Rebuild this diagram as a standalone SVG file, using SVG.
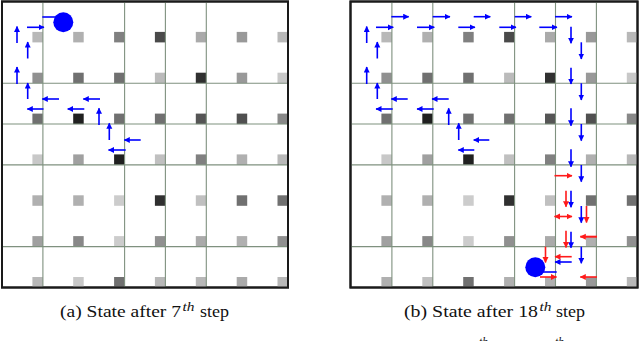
<svg xmlns="http://www.w3.org/2000/svg" width="640" height="341" viewBox="0 0 640 341">
<defs>
<marker id="hb" markerUnits="userSpaceOnUse" markerWidth="7" markerHeight="7" refX="5.5" refY="3" orient="auto-start-reverse"><path d="M0,0 L6,3 L0,6 z" fill="#0000ff"/></marker>
<marker id="hr" markerUnits="userSpaceOnUse" markerWidth="7" markerHeight="7" refX="5.5" refY="3" orient="auto-start-reverse"><path d="M0,0 L6,3 L0,6 z" fill="#ff1a1a"/></marker>
<style>
.frame{fill:#ffffff;stroke:#1a1a1a;stroke-width:2}
.grid line{stroke:#7f917f;stroke-width:1.1}
.b{stroke:#0000ff;stroke-width:1.6;fill:none;marker-end:url(#hb)}
.r{stroke:#ff1a1a;stroke-width:1.6;fill:none;marker-end:url(#hr)}
.cap{font-family:"Liberation Serif","DejaVu Serif",serif;font-size:16.5px;fill:#111}
.sup{font-size:11.5px;font-style:italic}
</style>
</defs>

<!-- Left panel -->
<g id="panelA">
<rect class="frame" x="2" y="1.5" width="286" height="286"/>
<g id="squaresA">
<rect x="32.4" y="31.9" width="10.5" height="10.5" fill="#b8b8b8"/>
<rect x="73.2" y="31.9" width="10.5" height="10.5" fill="#b0b0b0"/>
<rect x="114.1" y="31.9" width="10.5" height="10.5" fill="#808080"/>
<rect x="154.9" y="31.9" width="10.5" height="10.5" fill="#4a4a4a"/>
<rect x="195.8" y="31.9" width="10.5" height="10.5" fill="#aaaaaa"/>
<rect x="236.7" y="31.9" width="10.5" height="10.5" fill="#999999"/>
<rect x="277.5" y="31.9" width="10.5" height="10.5" fill="#b8b8b8"/>

<rect x="32.4" y="72.7" width="10.5" height="10.5" fill="#909090"/>
<rect x="73.2" y="72.7" width="10.5" height="10.5" fill="#707070"/>
<rect x="114.1" y="72.7" width="10.5" height="10.5" fill="#707070"/>
<rect x="154.9" y="72.7" width="10.5" height="10.5" fill="#bbbbbb"/>
<rect x="195.8" y="72.7" width="10.5" height="10.5" fill="#303030"/>
<rect x="236.7" y="72.7" width="10.5" height="10.5" fill="#999999"/>
<rect x="277.5" y="72.7" width="10.5" height="10.5" fill="#c8c8c8"/>

<rect x="32.4" y="113.6" width="10.5" height="10.5" fill="#707070"/>
<rect x="73.2" y="113.6" width="10.5" height="10.5" fill="#202020"/>
<rect x="114.1" y="113.6" width="10.5" height="10.5" fill="#707070"/>
<rect x="154.9" y="113.6" width="10.5" height="10.5" fill="#707070"/>
<rect x="195.8" y="113.6" width="10.5" height="10.5" fill="#555555"/>
<rect x="236.7" y="113.6" width="10.5" height="10.5" fill="#505050"/>
<rect x="277.5" y="113.6" width="10.5" height="10.5" fill="#888888"/>

<rect x="32.4" y="154.4" width="10.5" height="10.5" fill="#c8c8c8"/>
<rect x="73.2" y="154.4" width="10.5" height="10.5" fill="#a0a0a0"/>
<rect x="114.1" y="154.4" width="10.5" height="10.5" fill="#202020"/>
<rect x="154.9" y="154.4" width="10.5" height="10.5" fill="#c0c0c0"/>
<rect x="195.8" y="154.4" width="10.5" height="10.5" fill="#808080"/>
<rect x="236.7" y="154.4" width="10.5" height="10.5" fill="#b0b0b0"/>
<rect x="277.5" y="154.4" width="10.5" height="10.5" fill="#b8b8b8"/>

<rect x="32.4" y="195.3" width="10.5" height="10.5" fill="#b0b0b0"/>
<rect x="73.2" y="195.3" width="10.5" height="10.5" fill="#b0b0b0"/>
<rect x="114.1" y="195.3" width="10.5" height="10.5" fill="#cccccc"/>
<rect x="154.9" y="195.3" width="10.5" height="10.5" fill="#303030"/>
<rect x="195.8" y="195.3" width="10.5" height="10.5" fill="#c0c0c0"/>
<rect x="236.7" y="195.3" width="10.5" height="10.5" fill="#707070"/>
<rect x="277.5" y="195.3" width="10.5" height="10.5" fill="#707070"/>

<rect x="32.4" y="236.1" width="10.5" height="10.5" fill="#a0a0a0"/>
<rect x="73.2" y="236.1" width="10.5" height="10.5" fill="#888888"/>
<rect x="114.1" y="236.1" width="10.5" height="10.5" fill="#cccccc"/>
<rect x="154.9" y="236.1" width="10.5" height="10.5" fill="#909090"/>
<rect x="195.8" y="236.1" width="10.5" height="10.5" fill="#aaaaaa"/>
<rect x="236.7" y="236.1" width="10.5" height="10.5" fill="#b0b0b0"/>
<rect x="277.5" y="236.1" width="10.5" height="10.5" fill="#909090"/>

<rect x="32.4" y="277" width="10.5" height="10.5" fill="#b8b8b8"/>
<rect x="73.2" y="277" width="10.5" height="10.5" fill="#c8c8c8"/>
<rect x="114.1" y="277" width="10.5" height="10.5" fill="#707070"/>
<rect x="154.9" y="277" width="10.5" height="10.5" fill="#b8b8b8"/>
<rect x="195.8" y="277" width="10.5" height="10.5" fill="#b8b8b8"/>
<rect x="236.7" y="277" width="10.5" height="10.5" fill="#aaaaaa"/>
<rect x="277.5" y="277" width="10.5" height="10.5" fill="#b8b8b8"/>
</g>
<g class="grid" id="gridA">
<line x1="42.9" y1="1.5" x2="42.9" y2="287.5"/>
<line x1="124.6" y1="1.5" x2="124.6" y2="287.5"/>
<line x1="165.4" y1="1.5" x2="165.4" y2="287.5"/>
<line x1="206.3" y1="1.5" x2="206.3" y2="287.5"/>
<line x1="2" y1="83.2" x2="288" y2="83.2"/>
<line x1="2" y1="124" x2="288" y2="124"/>
<line x1="2" y1="164.9" x2="288" y2="164.9"/>
<line x1="2" y1="246.6" x2="288" y2="246.6"/>
</g>
<rect class="frame" x="2" y="1.5" width="286" height="286" style="fill:none"/>
<g id="connectorsA">
<line class="b" x1="17" y1="43" x2="17" y2="26.5"/>
<line class="b" x1="27.7" y1="58.5" x2="27.7" y2="42"/>
<line class="b" x1="17" y1="84" x2="17" y2="67"/>
<line class="b" x1="27.7" y1="99" x2="27.7" y2="83"/>
<line class="b" x1="27" y1="27.3" x2="44" y2="27.3"/>
<line class="b" x1="59" y1="99" x2="42.3" y2="99"/>
<line class="b" x1="100" y1="99" x2="83.3" y2="99"/>
<line class="b" x1="43.5" y1="109" x2="27.3" y2="109"/>
<line class="b" x1="84.3" y1="109" x2="67.7" y2="109"/>
<line class="b" x1="99" y1="125" x2="99" y2="108.3"/>
<line class="b" x1="109.3" y1="140" x2="109.3" y2="123.3"/>
<line class="b" x1="140.7" y1="140" x2="124.3" y2="140"/>
<line class="b" x1="125.7" y1="150" x2="108.5" y2="150"/>
</g>
<g id="agentA">
<line x1="42.3" y1="17" x2="62" y2="17" stroke="#0000ff" stroke-width="1.6"/>
<circle cx="63.3" cy="22.3" r="10" fill="#0000ff"/>
</g>
</g>

<!-- Right panel -->
<g id="panelB">
<rect class="frame" x="350.5" y="1.5" width="287" height="286"/>
<g id="squaresB">
<rect x="381.4" y="31.9" width="10.5" height="10.5" fill="#b8b8b8"/>
<rect x="422.3" y="31.9" width="10.5" height="10.5" fill="#b0b0b0"/>
<rect x="463.2" y="31.9" width="10.5" height="10.5" fill="#808080"/>
<rect x="504.1" y="31.9" width="10.5" height="10.5" fill="#4a4a4a"/>
<rect x="545" y="31.9" width="10.5" height="10.5" fill="#aaaaaa"/>
<rect x="585.9" y="31.9" width="10.5" height="10.5" fill="#999999"/>
<rect x="626.8" y="31.9" width="10.5" height="10.5" fill="#b8b8b8"/>

<rect x="381.4" y="72.7" width="10.5" height="10.5" fill="#909090"/>
<rect x="422.3" y="72.7" width="10.5" height="10.5" fill="#707070"/>
<rect x="463.2" y="72.7" width="10.5" height="10.5" fill="#707070"/>
<rect x="504.1" y="72.7" width="10.5" height="10.5" fill="#bbbbbb"/>
<rect x="545" y="72.7" width="10.5" height="10.5" fill="#303030"/>
<rect x="585.9" y="72.7" width="10.5" height="10.5" fill="#999999"/>
<rect x="626.8" y="72.7" width="10.5" height="10.5" fill="#c8c8c8"/>

<rect x="381.4" y="113.6" width="10.5" height="10.5" fill="#707070"/>
<rect x="422.3" y="113.6" width="10.5" height="10.5" fill="#202020"/>
<rect x="463.2" y="113.6" width="10.5" height="10.5" fill="#707070"/>
<rect x="504.1" y="113.6" width="10.5" height="10.5" fill="#707070"/>
<rect x="545" y="113.6" width="10.5" height="10.5" fill="#555555"/>
<rect x="585.9" y="113.6" width="10.5" height="10.5" fill="#505050"/>
<rect x="626.8" y="113.6" width="10.5" height="10.5" fill="#888888"/>

<rect x="381.4" y="154.4" width="10.5" height="10.5" fill="#c8c8c8"/>
<rect x="422.3" y="154.4" width="10.5" height="10.5" fill="#a0a0a0"/>
<rect x="463.2" y="154.4" width="10.5" height="10.5" fill="#202020"/>
<rect x="504.1" y="154.4" width="10.5" height="10.5" fill="#c0c0c0"/>
<rect x="545" y="154.4" width="10.5" height="10.5" fill="#808080"/>
<rect x="585.9" y="154.4" width="10.5" height="10.5" fill="#b0b0b0"/>
<rect x="626.8" y="154.4" width="10.5" height="10.5" fill="#b8b8b8"/>

<rect x="381.4" y="195.3" width="10.5" height="10.5" fill="#b0b0b0"/>
<rect x="422.3" y="195.3" width="10.5" height="10.5" fill="#b0b0b0"/>
<rect x="463.2" y="195.3" width="10.5" height="10.5" fill="#cccccc"/>
<rect x="504.1" y="195.3" width="10.5" height="10.5" fill="#303030"/>
<rect x="545" y="195.3" width="10.5" height="10.5" fill="#c0c0c0"/>
<rect x="585.9" y="195.3" width="10.5" height="10.5" fill="#707070"/>
<rect x="626.8" y="195.3" width="10.5" height="10.5" fill="#707070"/>

<rect x="381.4" y="236.1" width="10.5" height="10.5" fill="#a0a0a0"/>
<rect x="422.3" y="236.1" width="10.5" height="10.5" fill="#888888"/>
<rect x="463.2" y="236.1" width="10.5" height="10.5" fill="#cccccc"/>
<rect x="504.1" y="236.1" width="10.5" height="10.5" fill="#909090"/>
<rect x="545" y="236.1" width="10.5" height="10.5" fill="#aaaaaa"/>
<rect x="585.9" y="236.1" width="10.5" height="10.5" fill="#b0b0b0"/>
<rect x="626.8" y="236.1" width="10.5" height="10.5" fill="#909090"/>

<rect x="381.4" y="277" width="10.5" height="10.5" fill="#b0b0b0"/>
<rect x="422.3" y="277" width="10.5" height="10.5" fill="#c0c0c0"/>
<rect x="463.2" y="277" width="10.5" height="10.5" fill="#707070"/>
<rect x="504.1" y="277" width="10.5" height="10.5" fill="#b0b0b0"/>
<rect x="545" y="277" width="10.5" height="10.5" fill="#b0b0b0"/>
<rect x="585.9" y="277" width="10.5" height="10.5" fill="#999999"/>
<rect x="626.8" y="277" width="10.5" height="10.5" fill="#b8b8b8"/>
</g>
<g class="grid" id="gridB">
<line x1="391.9" y1="1.5" x2="391.9" y2="287.5"/>
<line x1="432.8" y1="1.5" x2="432.8" y2="287.5"/>
<line x1="514.6" y1="1.5" x2="514.6" y2="287.5"/>
<line x1="555.5" y1="1.5" x2="555.5" y2="287.5"/>
<line x1="596.4" y1="1.5" x2="596.4" y2="287.5"/>
<line x1="350.5" y1="83.2" x2="637.5" y2="83.2"/>
<line x1="350.5" y1="124" x2="637.5" y2="124"/>
<line x1="350.5" y1="164.9" x2="637.5" y2="164.9"/>
<line x1="350.5" y1="246.6" x2="637.5" y2="246.6"/>
</g>
<rect class="frame" x="350.5" y="1.5" width="287" height="286" style="fill:none"/>
<g id="connectorsB">
<line class="b" x1="366.7" y1="43" x2="366.7" y2="26.5"/>
<line class="b" x1="377.3" y1="58.5" x2="377.3" y2="42"/>
<line class="b" x1="366.7" y1="84" x2="366.7" y2="67"/>
<line class="b" x1="377.3" y1="99" x2="377.3" y2="83"/>
<line class="b" x1="376" y1="27.3" x2="393.3" y2="27.3"/>
<line class="b" x1="417" y1="27.3" x2="434.3" y2="27.3"/>
<line class="b" x1="458.3" y1="27.3" x2="475" y2="27.3"/>
<line class="b" x1="499.3" y1="27.3" x2="516" y2="27.3"/>
<line class="b" x1="539.3" y1="27.3" x2="557" y2="27.3"/>
<line class="b" x1="391.3" y1="16.7" x2="408.7" y2="16.7"/>
<line class="b" x1="432.7" y1="16.7" x2="450" y2="16.7"/>
<line class="b" x1="473.7" y1="16.7" x2="490.3" y2="16.7"/>
<line class="b" x1="514.7" y1="16.7" x2="531.3" y2="16.7"/>
<line class="b" x1="555" y1="16.7" x2="572" y2="16.7"/>
<line class="b" x1="571" y1="26.7" x2="571" y2="43.3"/>
<line class="b" x1="571" y1="67.7" x2="571" y2="84"/>
<line class="b" x1="571" y1="108.3" x2="571" y2="125.7"/>
<line class="b" x1="571" y1="149.3" x2="571" y2="166.7"/>
<line class="b" x1="571" y1="190.7" x2="571" y2="207.3"/>
<line class="b" x1="571" y1="231.7" x2="571" y2="247.7"/>
<line class="b" x1="581.3" y1="42.3" x2="581.3" y2="59"/>
<line class="b" x1="581.3" y1="83.3" x2="581.3" y2="100"/>
<line class="b" x1="581.3" y1="124" x2="581.3" y2="140.7"/>
<line class="b" x1="581.3" y1="165" x2="581.3" y2="181.7"/>
<line class="b" x1="581.3" y1="206" x2="581.3" y2="222.7"/>
<line class="b" x1="581.3" y1="246.7" x2="581.3" y2="263.3"/>
<line class="b" x1="407.7" y1="99" x2="391.3" y2="99"/>
<line class="b" x1="448.7" y1="99" x2="432" y2="99"/>
<line class="b" x1="392.7" y1="109" x2="376" y2="109"/>
<line class="b" x1="433.7" y1="109" x2="417" y2="109"/>
<line class="b" x1="448.7" y1="125" x2="448.7" y2="108.3"/>
<line class="b" x1="458.7" y1="140" x2="458.7" y2="123.3"/>
<line class="b" x1="489.3" y1="140" x2="473.7" y2="140"/>
<line class="b" x1="474.3" y1="150" x2="458.3" y2="150"/>
<line class="b" x1="571.7" y1="262" x2="555" y2="262"/>
<line class="r" x1="554.5" y1="175.7" x2="572" y2="175.7"/>
<line class="r" x1="566" y1="190.7" x2="566" y2="206.7"/>
<line class="r" x1="554.5" y1="216.5" x2="572" y2="216.5" style="marker-start:url(#hr)"/>
<line class="r" x1="586.5" y1="206" x2="586.5" y2="222.5"/>
<line class="r" x1="597" y1="236.7" x2="580.3" y2="236.7" style="stroke-width:2"/>
<line class="r" x1="566" y1="230.7" x2="566" y2="247.5"/>
<line class="r" x1="545.5" y1="246.7" x2="545.5" y2="262.5"/>
<line class="r" x1="571.7" y1="256.7" x2="555" y2="256.7"/>
<line class="r" x1="540" y1="277" x2="556.5" y2="277"/>
<line class="r" x1="597" y1="277" x2="580.3" y2="277"/>
</g>
<g id="agentB">
<line x1="535" y1="272" x2="556.7" y2="272" stroke="#0000ff" stroke-width="1.6"/>
<circle cx="535.3" cy="267.3" r="10" fill="#0000ff"/>
</g>
</g>

<g id="captions">
<text class="cap" x="60" y="317" textLength="121" lengthAdjust="spacingAndGlyphs">(a) State after 7</text>
<text class="cap sup" x="182.5" y="310.5" textLength="12" lengthAdjust="spacingAndGlyphs">th</text>
<text class="cap" x="200" y="317" textLength="29" lengthAdjust="spacingAndGlyphs">step</text>
<text class="cap" x="404" y="317" textLength="134" lengthAdjust="spacingAndGlyphs">(b) State after 18</text>
<text class="cap sup" x="539.5" y="310.5" textLength="12" lengthAdjust="spacingAndGlyphs">th</text>
<text class="cap" x="556" y="317" textLength="29" lengthAdjust="spacingAndGlyphs">step</text>
<text class="cap sup" x="479" y="346">th</text>
<text class="cap sup" x="555" y="346">th</text>
</g>
</svg>
